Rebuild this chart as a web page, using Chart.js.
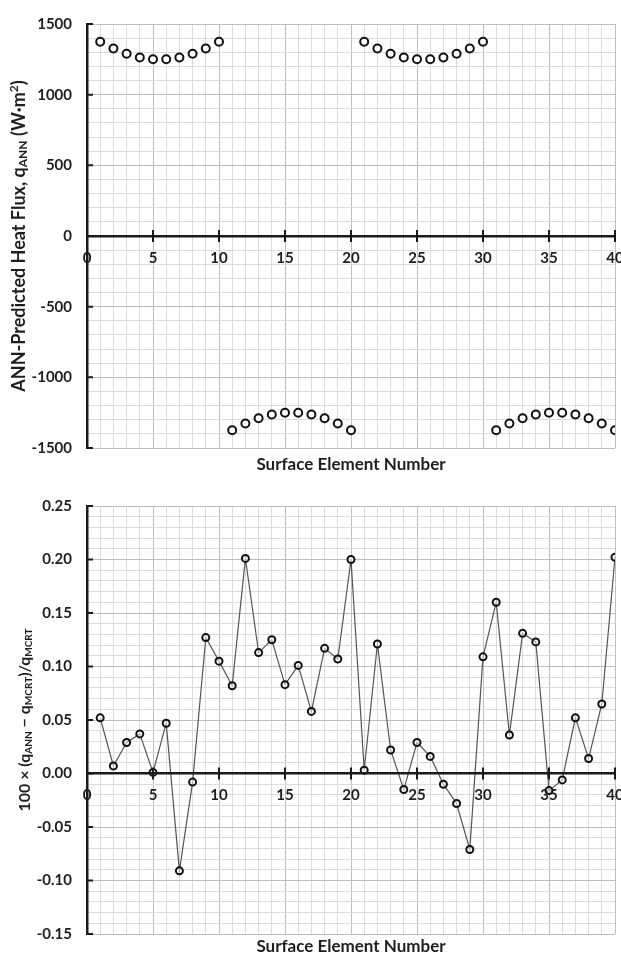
<!DOCTYPE html>
<html lang="en">
<head>
<meta charset="UTF-8">
<title>ANN Heat Flux</title>
<script src="https://cdn.jsdelivr.net/npm/chart.js"></script>
<style>
  body { margin: 0; background: #fff; }
  canvas { display: block; }
</style>
</head>
<body>
<canvas id="fluxChart" width="621" height="479"></canvas>
<canvas id="errChart" width="621" height="479"></canvas>
<script>
// surface element numbers
const elements = [1,2,3,4,5,6,7,8,9,10,11,12,13,14,15,16,17,18,19,20,
                  21,22,23,24,25,26,27,28,29,30,31,32,33,34,35,36,37,38,39,40];

// ANN-predicted heat flux (W/m2)
const fluxValues = [1375,1327,1290,1263,1250,1250,1263,1290,1327,1375,
                    -1375,-1327,-1290,-1263,-1250,-1250,-1263,-1290,-1327,-1375,
                    1375,1327,1290,1263,1250,1250,1263,1290,1327,1375,
                    -1375,-1327,-1290,-1263,-1250,-1250,-1263,-1290,-1327,-1375];

// 100 x (qANN - qMCRT)/qMCRT
const errValues = [0.052,0.007,0.029,0.037,0.001,0.047,-0.091,-0.008,0.127,0.105,
                   0.082,0.201,0.113,0.125,0.083,0.101,0.058,0.117,0.107,0.200,
                   0.003,0.121,0.022,-0.015,0.029,0.016,-0.010,-0.028,-0.071,0.109,
                   0.160,0.036,0.131,0.123,-0.016,-0.006,0.052,0.014,0.065,0.202];

const xTicks = [0,5,10,15,20,25,30,35,40];
const fluxTicks = [-1500,-1000,-500,0,500,1000,1500];
const errTicks = [-0.15,-0.10,-0.05,0.00,0.05,0.10,0.15,0.20,0.25];

const FONT = "Lato, 'Open Sans', sans-serif";
const TEXT = '#1e1e1e';
const MINOR = '#dcdcdc';
const MAJOR = '#bfbfbf';

const isMajor = (list, v) => list.some(t => Math.abs(t - v) < 1e-6);

// cross ticks on the zero line, inward ticks on the y axis, rich y title
const axisMarks = {
  id: 'axisMarks',
  afterDraw(chart, args, opts) {
    const {ctx, chartArea, scales: {x, y}} = chart;
    const y0 = y.getPixelForValue(0);
    ctx.save();
    ctx.strokeStyle = '#1a1a1a';
    ctx.lineWidth = 2;
    ctx.beginPath();
    xTicks.forEach(v => {
      if (v === 0) return;
      const px = x.getPixelForValue(v);
      ctx.moveTo(px, y0 - 6);
      ctx.lineTo(px, y0 + 6);
    });
    opts.yMarks.forEach(v => {
      const py = y.getPixelForValue(v);
      ctx.moveTo(chartArea.left, py);
      ctx.lineTo(chartArea.left + 6, py);
    });
    ctx.stroke();

    // y title with sub / superscripts
    const big = 'bold ' + opts.size + 'px ' + FONT;
    const small = 'bold ' + opts.subSize + 'px ' + FONT;
    let total = 0;
    opts.title.forEach(p => {
      ctx.font = p.sub || p.sup ? small : big;
      total += ctx.measureText(p.t).width;
    });
    ctx.translate(opts.titleX, (chartArea.top + chartArea.bottom) / 2);
    ctx.rotate(-Math.PI / 2);
    ctx.fillStyle = TEXT;
    ctx.textBaseline = 'middle';
    ctx.textAlign = 'left';
    let cx = -total / 2;
    opts.title.forEach(p => {
      ctx.font = p.sub || p.sup ? small : big;
      const dy = p.sub ? 4 : (p.sup ? -5 : 0);
      ctx.fillText(p.t, cx, dy);
      cx += ctx.measureText(p.t).width;
    });
    ctx.restore();
  }
};

function makeScales(yMin, yMax, yStep, yList, yFmt, titleH) {
  return {
    x: {
      type: 'linear',
      min: 0, max: 40,
      position: {y: 0},
      afterFit: s => { s.paddingLeft = 0; s.paddingRight = 0; },
      ticks: {
        stepSize: 1,
        autoSkip: false,
        maxRotation: 0,
        padding: 13,
        color: TEXT,
        font: {family: FONT, size: 15, weight: 'bold'},
        callback: v => xTicks.includes(v) ? v : ''
      },
      grid: {
        drawTicks: false,
        color: c => (c.tick && c.tick.value % 5 === 0) ? MAJOR : MINOR,
        lineWidth: 1
      },
      border: {color: '#1a1a1a', width: 2.5, z: 1}
    },
    xt: {
      type: 'linear',
      min: 0, max: 40,
      position: 'bottom',
      afterFit: s => { s.height = titleH; },
      ticks: {display: false},
      grid: {display: false},
      border: {display: false},
      title: {
        display: true,
        text: 'Surface Element Number',
        color: TEXT,
        font: {family: FONT, size: 17, weight: 'bold'},
        padding: {top: 0, bottom: titleH > 26 ? 4 : 0}
      }
    },
    y: {
      type: 'linear',
      min: yMin, max: yMax,
      afterFit: s => { s.width = 87; },
      ticks: {
        stepSize: yStep,
        autoSkip: false,
        padding: 15,
        color: TEXT,
        font: {family: FONT, size: 15, weight: 'bold'},
        callback: v => isMajor(yList, v) ? yFmt(v) : ''
      },
      grid: {
        drawTicks: false,
        color: c => (c.tick && isMajor(yList, c.tick.value)) ? MAJOR : MINOR,
        lineWidth: 1
      },
      border: {color: '#1a1a1a', width: 2.5, z: 1}
    }
  };
}

new Chart(document.getElementById('fluxChart'), {
  type: 'scatter',
  data: {
    datasets: [{
      data: elements.map((e, i) => ({x: e, y: fluxValues[i]})),
      showLine: false,
      pointRadius: 4,
      pointBorderWidth: 2,
      pointBorderColor: '#111',
      pointBackgroundColor: '#fff'
    }]
  },
  options: {
    responsive: false,
    animation: false,
    layout: {padding: {top: 17, right: 5, left: 0, bottom: 0}},
    plugins: {
      legend: {display: false},
      tooltip: {enabled: false},
      axisMarks: {
        yMarks: fluxTicks,
        titleX: 19,
        size: 18,
        subSize: 12,
        title: [
          {t: 'ANN-Predicted Heat Flux, q'},
          {t: 'ANN', sub: true},
          {t: ' (W\u00b7m'},
          {t: '2', sup: true},
          {t: ')'}
        ]
      }
    },
    scales: makeScales(-1500, 1500, 100, fluxTicks, v => v, 31)
  },
  plugins: [axisMarks]
});

new Chart(document.getElementById('errChart'), {
  type: 'scatter',
  data: {
    datasets: [{
      data: elements.map((e, i) => ({x: e, y: errValues[i]})),
      showLine: true,
      borderColor: '#555',
      borderWidth: 1.2,
      pointRadius: 3.5,
      pointBorderWidth: 2,
      pointBorderColor: '#111',
      pointBackgroundColor: 'rgba(255,255,255,0.5)'
    }]
  },
  options: {
    responsive: false,
    animation: false,
    layout: {padding: {top: 27, right: 4, left: 0, bottom: 0}},
    plugins: {
      legend: {display: false},
      tooltip: {enabled: false},
      axisMarks: {
        yMarks: errTicks,
        titleX: 25,
        size: 16,
        subSize: 10,
        title: [
          {t: '100 \u00d7 (q'},
          {t: 'ANN', sub: true},
          {t: ' \u2212 q'},
          {t: 'MCRT', sub: true},
          {t: ')/q'},
          {t: 'MCRT', sub: true}
        ]
      }
    },
    scales: makeScales(-0.15, 0.25, 0.01, errTicks, v => v.toFixed(2), 23)
  },
  plugins: [axisMarks]
});
</script>
</body>
</html>
